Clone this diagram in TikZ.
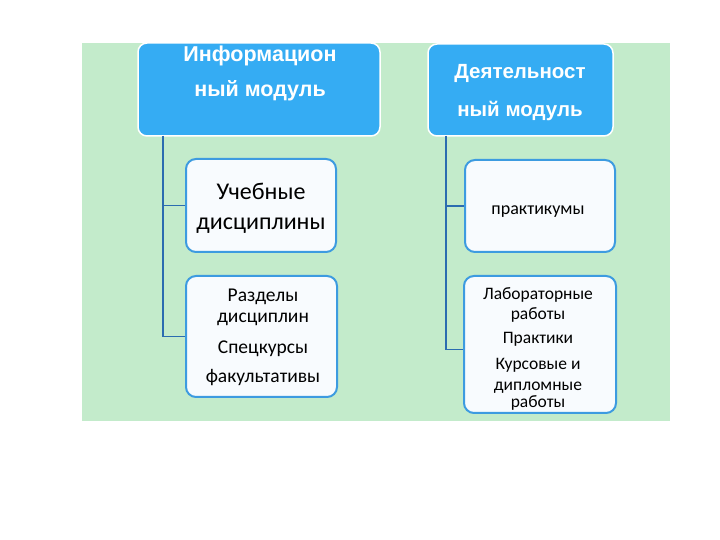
\documentclass[tikz,border=0pt]{standalone}
\usepackage{fontspec}
\setmainfont{Carlito}
\newfontfamily\headfont{Liberation Sans}
\definecolor{bggreen}{HTML}{C3EBCB}
\definecolor{headblue}{HTML}{35ACF3}
\definecolor{boxline}{HTML}{3D9BE0}
\definecolor{boxfill}{HTML}{F8FBFE}
\definecolor{connblue}{HTML}{2B6CB0}
\begin{document}
\begin{tikzpicture}[x=1pt,y=1pt,
  headbox/.style={draw=white,line width=1.5pt,fill=headblue,rounded corners=9pt,inner sep=0pt},
  subbox/.style={draw=boxline,line width=2pt,fill=boxfill,rounded corners=10pt,inner sep=0pt},
  headtxt/.style={anchor=base,inner sep=0pt,text=white,font=\headfont\bfseries\fontsize{20.5}{24}\selectfont},
  bigtxt/.style={anchor=base,inner sep=0pt,font=\fontsize{24}{28}\selectfont},
  midtxt/.style={anchor=base,inner sep=0pt,font=\fontsize{19.5}{22}\selectfont},
  praktxt/.style={anchor=base,inner sep=0pt,font=\fontsize{18}{21}\selectfont},
  smalltxt/.style={anchor=base,inner sep=0pt,font=\fontsize{17.5}{20}\selectfont},
  conn/.style={draw=connblue,line width=1.8pt}]
\useasboundingbox (0,0) rectangle (720,540);
\fill[bggreen] (82,119) rectangle (670,497);
% boxes
\node[headbox,minimum width=242pt,minimum height=93pt] (box1) at (259,450.5) {};
\node[headbox,minimum width=185pt,minimum height=92pt] (box2) at (520.5,450) {};
\node[subbox,minimum width=150pt,minimum height=93pt] (box3) at (261,334.5) {};
\node[subbox,minimum width=151pt,minimum height=121pt] (box4) at (261.5,203.5) {};
\node[subbox,minimum width=150pt,minimum height=92pt] (box5) at (540,334) {};
\node[subbox,minimum width=152pt,minimum height=137pt] (box6) at (540,195.5) {};
% connectors
\coordinate (tl) at (163,404);
\coordinate (tr) at (446,404);
\draw[conn] (tl) |- (box3.west);
\draw[conn] (tl) |- (box4.west);
\draw[conn] (tr) |- (box5.west);
\draw[conn] (tr) |- ([yshift=-5pt]box6.west);
% texts
\node[headtxt,font=\headfont\bfseries\fontsize{21.5}{25}\selectfont] (t1a) at (260,478) {Информацион};
\node[headtxt,font=\headfont\bfseries\fontsize{21.5}{25}\selectfont] (t1b) at (260,443) {ный модуль};
\node[headtxt] (t2a) at (520,461) {Деятельност};
\node[headtxt] (t2b) at (520,423) {ный модуль};
\node[bigtxt] (t3a) at (261,340) {Учебные};
\node[bigtxt] (t3b) at (261,310) {дисциплины};
\node[midtxt] (t4a) at (263,238) {Разделы};
\node[midtxt] (t4b) at (263,217) {дисциплин};
\node[midtxt] (t4c) at (263,186) {Спецкурсы};
\node[midtxt] (t4d) at (263,157) {факультативы};
\node[praktxt] (t5a) at (538,325) {практикумы};
\node[smalltxt] (t6a) at (538,240) {Лабораторные};
\node[smalltxt] (t6b) at (538,220) {работы};
\node[smalltxt] (t6c) at (538,196) {Практики};
\node[smalltxt] (t6d) at (538,170) {Курсовые и};
\node[smalltxt] (t6e) at (538,149) {дипломные};
\node[smalltxt] (t6f) at (538,132) {работы};
\end{tikzpicture}
\end{document}
